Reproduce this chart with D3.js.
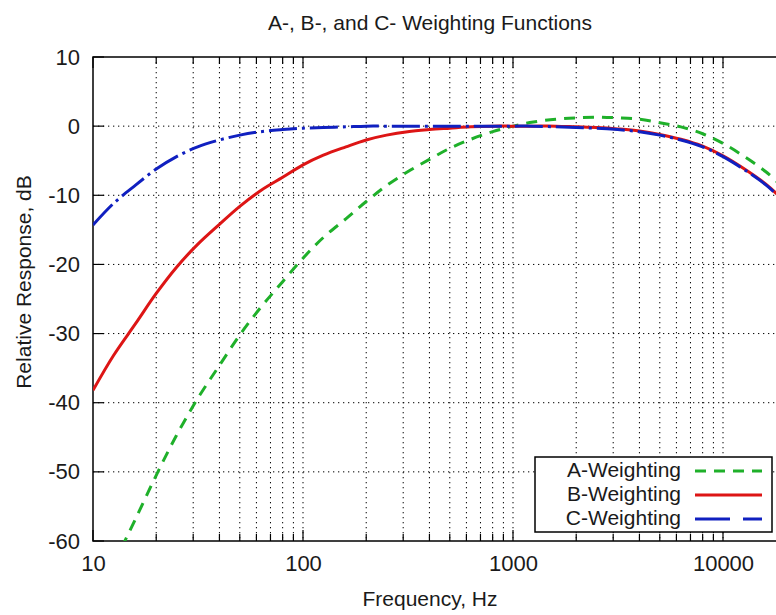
<!DOCTYPE html>
<html>
<head>
<meta charset="utf-8">
<script src="https://cdn.jsdelivr.net/npm/d3@7"></script>
<style>
  body { margin: 0; background: #fff; }
  svg { display: block; font-family: "Liberation Sans", Arial, sans-serif; }
  text { fill: #1a1a1a; }
</style>
</head>
<body>
<div class="container"></div>
<script>
//=================================================
// Data (1/3 octave bands)
//=================================================
const freqs = [10, 12.5, 16, 20, 25, 31.5, 40, 50, 63, 80, 100, 125, 160, 200, 250, 315, 400, 500, 630, 800,
  1000, 1250, 1600, 2000, 2500, 3150, 4000, 5000, 6300, 8000, 10000, 12500, 16000, 20000];

const aWeight = [null, -63.4, -56.7, -50.5, -44.7, -39.4, -34.6, -30.2, -26.2, -22.5, -19.1, -16.1, -13.4, -10.9, -8.6, -6.6, -4.8, -3.2, -1.9, -0.8,
  0, 0.6, 1.0, 1.2, 1.3, 1.2, 1.0, 0.5, -0.1, -1.1, -2.5, -4.3, -6.6, -9.3];

const bWeight = [-38.2, -33.2, -28.5, -24.2, -20.4, -17.1, -14.2, -11.6, -9.3, -7.4, -5.6, -4.2, -3.0, -2.0, -1.3, -0.8, -0.5, -0.3, -0.1, 0,
  0, 0, 0, -0.1, -0.2, -0.4, -0.7, -1.2, -1.9, -2.9, -4.3, -6.1, -8.4, -11.1];

const cWeight = [-14.3, -11.2, -8.5, -6.2, -4.4, -3.0, -2.0, -1.3, -0.8, -0.5, -0.3, -0.2, -0.1, 0, 0, 0, 0, 0, 0, 0,
  0, 0, -0.1, -0.2, -0.3, -0.5, -0.8, -1.3, -2.0, -3.0, -4.4, -6.2, -8.5, -11.2];

const seriesNames = ["A-Weighting", "B-Weighting", "C-Weighting"];
const xTickLabels = [10, 100, 1000, 10000];
const yTickLabels = [10, 0, -10, -20, -30, -40, -50, -60];

//=================================================
// Dimensions
//=================================================
var width = 776,
  height = 615,
  plotLeft = 93,
  plotTop = 57,
  plotBottom = 541,
  decade = 210;

var svg = d3.select(".container").
  append("svg").
  attr("width", width).
  attr("height", height);

svg.append("rect").attr("width", width).attr("height", height).attr("fill", "#fff");

//=================================================
// Scales
//=================================================
var xScale = d3.scaleLog().domain([10, 20000]).range([plotLeft, plotLeft + decade * Math.log10(2000)]);
var yScale = d3.scaleLinear().domain([-60, 10]).range([plotBottom, plotTop]);
var plotRight = xScale(20000);

// minor + major frequencies for grid
var gridFreqs = [];
[10, 100, 1000, 10000].forEach(function (d) {
  for (var k = 1; k < 10; k++) {
    if (d * k > 10 && d * k < 20000) gridFreqs.push(d * k);
  }
});

//=================================================
// Grid
//=================================================
svg.append("g").
  selectAll("line").
  data(gridFreqs).
  enter().
  append("line").
  attr("x1", d => xScale(d)).
  attr("x2", d => xScale(d)).
  attr("y1", plotTop).
  attr("y2", plotBottom).
  attr("stroke", "#000").
  attr("stroke-width", 1).
  attr("stroke-dasharray", "1.3,3.7");

svg.append("g").
  selectAll("line").
  data(yTickLabels.filter(d => d > -60 && d < 10)).
  enter().
  append("line").
  attr("x1", plotLeft).
  attr("x2", plotRight).
  attr("y1", d => yScale(d)).
  attr("y2", d => yScale(d)).
  attr("stroke", "#000").
  attr("stroke-width", 1).
  attr("stroke-dasharray", "1.3,3.7");

//=================================================
// Axes (gnuplot style ticks inward)
//=================================================
var xAxisBottom = d3.axisBottom(xScale).tickValues(xTickLabels).tickSize(0).tickPadding(14).tickFormat(d => String(d));
var gx = svg.append("g").
  attr("id", "x-axis").
  attr("transform", "translate(0," + plotBottom + ")").
  call(xAxisBottom);
gx.select(".domain").remove();
gx.selectAll("text").attr("font-size", 22).attr("fill", "#1a1a1a");

var yAxis = d3.axisLeft(yScale).tickValues(yTickLabels).tickSize(0).tickPadding(13).tickFormat(d => String(d));
var gy = svg.append("g").
  attr("id", "y-axis").
  attr("transform", "translate(" + plotLeft + ",0)").
  call(yAxis);
gy.select(".domain").remove();
gy.selectAll("text").attr("font-size", 22).attr("fill", "#1a1a1a");

var ticks = svg.append("g").attr("stroke", "#000").attr("stroke-width", 1.2);
gridFreqs.concat([10]).forEach(function (f) {
  var len = [10, 100, 1000, 10000].indexOf(f) >= 0 ? 11 : 7;
  ticks.append("line").attr("x1", xScale(f)).attr("x2", xScale(f)).attr("y1", plotBottom).attr("y2", plotBottom - len);
  ticks.append("line").attr("x1", xScale(f)).attr("x2", xScale(f)).attr("y1", plotTop).attr("y2", plotTop + len);
});
yTickLabels.forEach(function (v) {
  ticks.append("line").attr("x1", plotLeft).attr("x2", plotLeft + 11).attr("y1", yScale(v)).attr("y2", yScale(v));
});

// border
svg.append("rect").
  attr("x", plotLeft).
  attr("y", plotTop).
  attr("width", plotRight - plotLeft).
  attr("height", plotBottom - plotTop).
  attr("fill", "none").
  attr("stroke", "#000").
  attr("stroke-width", 1.5);

//=================================================
// Curves
//=================================================
svg.append("clipPath").attr("id", "plot").
  append("rect").attr("x", plotLeft).attr("y", plotTop).attr("width", plotRight - plotLeft).attr("height", plotBottom - plotTop);

var series = [
  { name: seriesNames[0], values: aWeight, color: "#1fb02a", dash: "11,8" },
  { name: seriesNames[1], values: bWeight, color: "#dd1515", dash: null },
  { name: seriesNames[2], values: cWeight, color: "#1020c0", dash: "28,5,3,5" }
];

var line = d3.line().
  defined(d => d[1] !== null).
  x(d => xScale(d[0])).
  y(d => yScale(d[1])).
  curve(d3.curveCatmullRom.alpha(0.5));

var curves = svg.append("g").attr("clip-path", "url(#plot)");
// draw A first, then B, then C on top
series.forEach(function (s) {
  curves.append("path").
    attr("d", line(freqs.map((f, i) => [f, s.values[i]]))).
    attr("fill", "none").
    attr("stroke", s.color).
    attr("stroke-width", 3).
    attr("stroke-dasharray", s.dash);
});

//=================================================
// Legend
//=================================================
var legend = svg.append("g");
legend.append("rect").
  attr("x", 535).
  attr("y", 457).
  attr("width", 237).
  attr("height", 75).
  attr("fill", "#fff").
  attr("stroke", "#000").
  attr("stroke-width", 1.5);

series.forEach(function (s, i) {
  var y = 470 + i * 24;
  legend.append("text").
    attr("x", 681).
    attr("y", y).
    attr("dy", "0.35em").
    attr("text-anchor", "end").
    attr("font-size", 21).
    text(s.name);
  legend.append("line").
    attr("x1", 695).
    attr("x2", 762).
    attr("y1", y + 1).
    attr("y2", y + 1).
    attr("stroke", s.color).
    attr("stroke-width", 3).
    attr("stroke-dasharray", s.name == "C-Weighting" ? "35,13,19" : s.dash);
});

//=================================================
// Titles
//=================================================
svg.append("text").
  attr("x", 430).
  attr("y", 30).
  attr("text-anchor", "middle").
  attr("font-size", 21).
  text("A-, B-, and C- Weighting Functions");

svg.append("text").
  attr("x", 430).
  attr("y", 606).
  attr("text-anchor", "middle").
  attr("font-size", 21).
  text("Frequency, Hz");

svg.append("text").
  attr("transform", "translate(31,282) rotate(-90)").
  attr("text-anchor", "middle").
  attr("font-size", 21).
  text("Relative Response, dB");
</script>
</body>
</html>
